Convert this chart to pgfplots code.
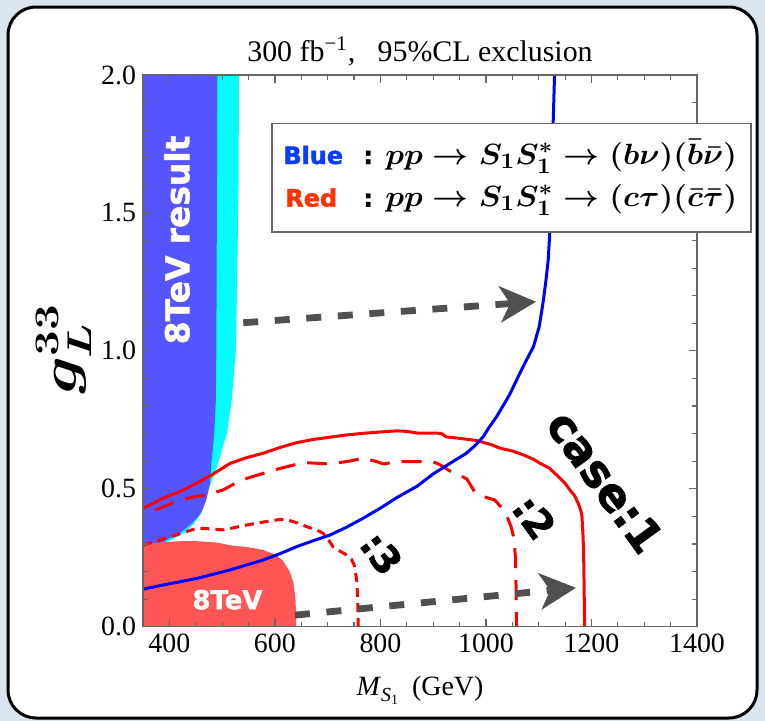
\documentclass[border=0pt]{standalone}
\usepackage[no-math]{fontspec}
\setmainfont{Liberation Serif}
\newfontfamily\djsans{DejaVu Sans}
\newfontfamily\djheavy{DejaVu Sans}[BoldFeatures={FakeBold=1.6}]
\usepackage{graphicx}
\usepackage{pgfplots}
\pgfplotsset{compat=1.18}
\usetikzlibrary{arrows.meta}
\definecolor{bgblue}{HTML}{D9E4EF}
\definecolor{regblue}{HTML}{5555FF}
\definecolor{regcyan}{HTML}{00FFFF}
\definecolor{regred}{HTML}{FF5555}
\definecolor{arrowgray}{HTML}{505050}
\definecolor{lblue}{HTML}{0A3CFF}
\definecolor{lred}{HTML}{FF3300}
\definecolor{framegray}{HTML}{666666}
\newcommand{\legA}{\scalebox{1.09}[1.02]{\mbox{\boldmath$pp \rightarrow S_1 S_1^{*} \rightarrow (b\nu)(\bar{b}\bar{\nu})$}}}
\newcommand{\legB}{\scalebox{1.09}[1.02]{\mbox{\boldmath$pp \rightarrow S_1 S_1^{*} \rightarrow (c\tau)(\bar{c}\bar{\tau})$}}}
\newcommand{\ylab}{\scalebox{1.33}[1]{\mbox{\boldmath$g_L^{33}$}}}
\newcommand{\xlab}{\textit{M}\raisebox{-3bp}{\fontsize{10}{10}\selectfont\textit{S}\raisebox{-1.8bp}{\fontsize{7}{7}\selectfont 1}}\ \ (GeV)}
\newcommand{\ttl}{300 fb\textsuperscript{\char"2212 1},\ \ \ 95\%CL exclusion}
\begin{document}
\begin{tikzpicture}
\useasboundingbox (0,0) rectangle (382.5bp,-360.5bp);
\fill[bgblue] (0,0) rectangle (382.5bp,-360.5bp);
\draw[line width=1.5bp, fill=white, rounded corners=14bp] (4bp,-3.5bp) rectangle (378.5bp,-359bp);
\begin{axis}[
  at={(71.5bp,-313.35bp)}, anchor=south west,
  scale only axis, width=277bp, height=275.85bp,
  xmin=350, xmax=1400, ymin=0, ymax=2,
  xtick={400,600,800,1000,1200,1400},
  minor x tick num=3,
  ytick={0,0.5,1,1.5,2},
  minor y tick num=4,
  tick align=inside,
  major tick length=4bp, minor tick length=2.5bp,
  axis line style={draw=framegray, line width=0.7bp},
  every tick/.style={draw=framegray, line width=0.6bp},
  every minor tick/.style={draw=framegray, line width=0.6bp},
  axis on top,
  /pgf/number format/assume math mode=true,
  ticklabel style={font=\fontsize{14}{16}\selectfont},
  xticklabel style={/pgf/number format/1000 sep={}},
  yticklabel style={/pgf/number format/.cd, fixed, fixed zerofill, precision=1},
]
% cyan region
\addplot[fill=regcyan, draw=none] coordinates {
 (350,2.0) (532,2.0) (531,1.6) (528,1.2) (526,1.0) (518,0.82) (509,0.70) (490,0.58)
 (475,0.50) (468,0.45) (460,0.41) (445,0.37) (428,0.34) (405,0.315) (385,0.30) (350,0.295)} -- cycle;
% blue region
\addplot[fill=regblue, draw=none] coordinates {
 (350,2.0) (491,2.0) (490,1.5) (489,1.0) (488,0.82) (485,0.70) (480,0.60) (477,0.52)
 (470,0.46) (462,0.42) (455,0.40) (440,0.37) (420,0.34) (400,0.32) (382,0.30) (350,0.29)} -- cycle;
% red region
\addplot[fill=regred, draw=none] coordinates {
 (350,0) (350,0.30) (380,0.305) (420,0.31) (452,0.31) (490,0.305) (515,0.295) (550,0.288)
 (578,0.278) (600,0.262) (615,0.24) (628,0.20) (635,0.16) (639,0.10) (640,0.05) (640,0)} -- cycle;
% case 1
\addplot[red, line width=1.5bp] coordinates {
 (350,0.429) (370,0.448) (388,0.466) (420,0.49) (452,0.52) (480,0.55) (515,0.592) (545,0.612)
 (578,0.629) (610,0.65) (641,0.667) (670,0.678) (704,0.687) (735,0.695) (767,0.701) (800,0.706)
 (831,0.710) (850,0.708) (870,0.702) (900,0.702) (915,0.701) (925,0.688) (945,0.684) (982,0.675)
 (1010,0.660) (1027,0.647) (1050,0.637) (1071,0.623) (1090,0.607) (1103,0.592) (1120,0.575)
 (1134,0.55) (1150,0.52) (1159,0.496) (1168,0.475) (1175,0.447) (1180,0.42) (1182,0.40)
 (1184,0.33) (1185,0.278) (1186,0.15) (1187,0)};
% case 2
\addplot[red, line width=1.5bp, dash pattern=on 10bp off 6bp] coordinates {
 (373,0.423) (395,0.44) (420,0.459) (445,0.47) (471,0.478) (502,0.496) (525,0.52) (547,0.538)
 (580,0.557) (610,0.574) (654,0.595) (704,0.59) (740,0.60) (768,0.611) (790,0.60) (806,0.59)
 (831,0.598) (900,0.598) (915,0.585) (930,0.566) (950,0.55) (964,0.535) (972,0.51) (978,0.49)
 (990,0.475) (1017,0.459) (1030,0.43) (1040,0.40) (1048,0.36) (1053,0.32) (1056,0.25)
 (1057,0.15) (1058,0)};
% case 3
\addplot[red, line width=1.5bp, dash pattern=on 4.5bp off 3bp] coordinates {
 (350,0.296) (375,0.31) (401,0.326) (425,0.34) (452,0.357) (475,0.355) (502,0.351) (525,0.36)
 (547,0.369) (580,0.38) (610,0.389) (622,0.388) (640,0.378) (660,0.363) (680,0.35) (691,0.339)
 (700,0.32) (710,0.29) (725,0.272) (736,0.26) (745,0.245) (750,0.225) (755,0.17) (757,0.1) (758,0)};
% blue line
\addplot[blue, line width=1.5bp] coordinates {
 (350,0.136) (388,0.151) (420,0.163) (452,0.175) (483,0.19) (515,0.206) (545,0.223) (578,0.242)
 (610,0.265) (641,0.29) (670,0.31) (704,0.332) (735,0.36) (767,0.393) (800,0.43) (831,0.468)
 (870,0.51) (900,0.554) (930,0.59) (963,0.629) (980,0.658) (995,0.689) (1005,0.72) (1020,0.761)
 (1039,0.822) (1046,0.846) (1061,0.906) (1075,0.96) (1090,1.015) (1101,1.088) (1109,1.185)
 (1114,1.26) (1118,1.33) (1121,1.43) (1124,1.6) (1127,1.8) (1130,2.0)};
% arrows
\addplot[arrowgray, line width=3.4bp, dash pattern=on 7.5bp off 8.3bp,
  -{Stealth[length=18bp, width=18bp, inset=5bp]}] coordinates {(540,1.102) (1095,1.178)};
\addplot[arrowgray, line width=3.4bp, dash pattern=on 7.5bp off 8.3bp,
  -{Stealth[length=18bp, width=18bp, inset=5bp]}] coordinates {(638,0.042) (1170.7,0.141)};
% texts
\node[rotate=90, text=white, font=\djheavy\bfseries\fontsize{16.5}{17}\selectfont] at (axis cs:414.4,1.402) {8TeV result};
\node[text=white, font=\djheavy\bfseries\fontsize{13}{14}\selectfont] at (axis cs:510,0.098) {8TeV};
\node[rotate=-54, font=\djheavy\bfseries\fontsize{22.5}{23}\selectfont] at (axis cs:1226,0.526) {case:1};
\node[rotate=-54, font=\djheavy\bfseries\fontsize{19.5}{20}\selectfont] at (axis cs:1092,0.397) {:2};
\node[rotate=-54, font=\djheavy\bfseries\fontsize{19}{20}\selectfont] at (axis cs:802,0.266) {:3};
\end{axis}
% legend box
\draw[draw=framegray, line width=0.8bp, fill=white] (135.85bp,-61.65bp) rectangle (375.5bp,-115.85bp);
\path (141.5bp,-82bp) node[anchor=base west, inner sep=0pt, text=lblue, font=\djheavy\bfseries\fontsize{12}{13}\selectfont] {Blue};
\path (142.5bp,-103.3bp) node[anchor=base west, inner sep=0pt, text=lred, font=\djheavy\bfseries\fontsize{12}{13}\selectfont] {Red};
\path (181.5bp,-82bp) node[anchor=base west, inner sep=0pt, font=\djheavy\bfseries\fontsize{12}{13}\selectfont] {\char58};
\path (181.5bp,-103.3bp) node[anchor=base west, inner sep=0pt, font=\djheavy\bfseries\fontsize{12}{13}\selectfont] {\char58};
\path (192.5bp,-82bp) node[anchor=base west, inner sep=0pt, font=\fontsize{15.5}{17}\selectfont] {{\legA}};
\path (192.5bp,-103.3bp) node[anchor=base west, inner sep=0pt, font=\fontsize{15.5}{17}\selectfont] {{\legB}};
% title and labels
\path (210bp,-30.5bp) node[anchor=base, inner sep=0pt, font=\fontsize{15}{17}\selectfont] {\ttl};
\path (210bp,-347.5bp) node[anchor=base, inner sep=0pt, font=\fontsize{14}{16}\selectfont] {\xlab};
\path (32bp,-174.5bp) node[rotate=90, inner sep=0pt, font=\fontsize{23}{25}\selectfont] {{\ylab}};
\end{tikzpicture}
\end{document}
